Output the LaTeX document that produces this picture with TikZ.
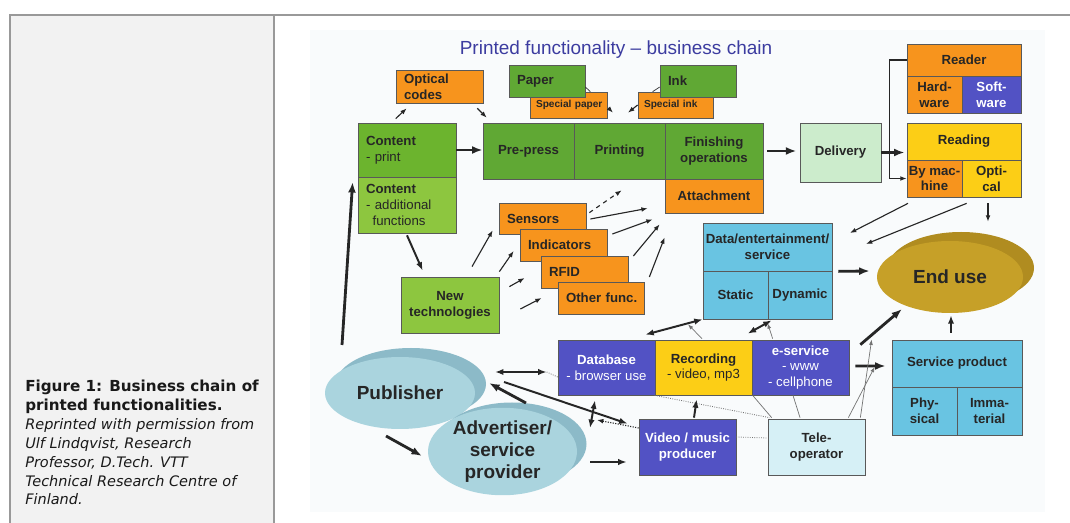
\documentclass[tikz,border=0pt]{standalone}
\usepackage{fontspec}
\setmainfont{Liberation Sans}
\newfontfamily\capfont{DejaVu Sans}
\usetikzlibrary{shapes.geometric,arrows.meta}

\newlength{\pxu}
\setlength{\pxu}{0.025cm}

\definecolor{orng}{RGB}{247,148,29}
\definecolor{grn}{RGB}{96,168,52}
\definecolor{grnc}{RGB}{108,180,46}
\definecolor{lgrn}{RGB}{141,198,63}
\definecolor{dlv}{RGB}{204,236,204}
\definecolor{yel}{RGB}{252,206,22}
\definecolor{purp}{RGB}{82,82,196}
\definecolor{lblu}{RGB}{105,196,226}
\definecolor{tel}{RGB}{214,240,246}
\definecolor{endc}{RGB}{198,160,40}
\definecolor{endd}{RGB}{176,140,32}
\definecolor{pubc}{RGB}{170,212,222}
\definecolor{pubd}{RGB}{140,186,200}
\definecolor{ttl}{RGB}{60,60,160}
\definecolor{bgd}{RGB}{249,251,252}

\tikzset{
  box/.style={draw=black!65, line width=0.5pt, inner sep=0pt, align=center,
    text=black!85, font=\fontsize{9.4}{11.2}\selectfont\bfseries},
  lbox/.style={box, align=left, inner xsep=8\pxu, text width=#1\pxu},
  small/.style={font=\fontsize{7.2}{9}\selectfont\bfseries},
  disc/.style={ellipse, inner sep=0pt, align=center, text=black!85,
    font=\fontsize{13.5}{15.7}\selectfont\bfseries},
  big/.style={->, line width=2pt, black!85},
  md/.style={->, line width=1.4pt, black!85},
  tn/.style={->, line width=0.8pt, black!85},
  tg/.style={->, line width=0.5pt, black!55},
  ln/.style={line width=0.5pt, black!55},
  dots/.style={densely dotted, line width=0.6pt, black!55}
}

\begin{document}
\begin{tikzpicture}[x=\pxu, y=-\pxu, >={Latex[length=2.5pt 2.5]}]
  \useasboundingbox (0,0) rectangle (1070,523);

  % page frame and caption column
  \fill[gray!10] (10,15) rectangle (274,523);
  \draw[gray!80, line width=2pt] (10,523) -- (10,15) -- (1070,15);
  \draw[gray!80, line width=2pt] (274,15) -- (274,523);
  \node[anchor=north west, inner sep=0pt, align=left, text=black!90,
    font=\capfont\fontsize{10.3}{13.4}\selectfont] (cap) at (25,380)
    {{\fontsize{10.8}{13.4}\selectfont\bfseries Figure 1: Business chain of}\\
     {\fontsize{10.8}{13.4}\selectfont\bfseries printed functionalities.}\\
     \textit{Reprinted with permission from}\\
     \textit{Ulf Lindqvist, Research}\\
     \textit{Professor, D.Tech. VTT}\\
     \textit{Technical Research Centre of}\\
     \textit{Finland.}};

  \fill[bgd] (310,30) rectangle (1045,512);
  \node[font=\fontsize{13.5}{16}\selectfont, text=ttl] (title) at (616,50)
    {Printed functionality -- business chain};

  % content and print chain
  \node[lbox=71, fill=orng, minimum height=33\pxu] (optc) at (439.5,86.5) {Optical\\codes};
  \node[lbox=65, inner xsep=6\pxu, small, fill=orng, minimum height=26\pxu] (specp) at (568.5,105) {\mbox{Special paper}};
  \node[lbox=60, fill=grn, minimum height=32\pxu] (paper) at (547,81) {Paper};
  \node[lbox=63, inner xsep=6\pxu, small, fill=orng, minimum height=26\pxu] (specink) at (675.5,105) {\mbox{Special ink}};
  \node[lbox=60, fill=grn, minimum height=32\pxu] (ink) at (698,81) {Ink};

  \node[lbox=82, fill=grnc, minimum height=54\pxu] (cprint) at (407,150) {Content\\{\mdseries - print}};
  \node[lbox=82, fill=lgrn, minimum height=56\pxu] (cadd) at (407,205)
    {Content\\{\mdseries - additional}\\{\mdseries\hspace*{0.5em}functions}};
  \node[box, fill=grn, minimum width=91\pxu, minimum height=56\pxu] (prep) at (528.5,151) {Pre-press};
  \node[box, fill=grn, minimum width=91\pxu, minimum height=56\pxu] (print) at (619.5,151) {Printing};
  \node[box, fill=grn, minimum width=98\pxu, minimum height=56\pxu] (fin) at (714,151) {Finishing\\operations};
  \node[box, fill=orng, minimum width=98\pxu, minimum height=34\pxu] (attach) at (714,196) {Attachment};
  \node[box, fill=dlv, minimum width=81\pxu, minimum height=59\pxu] (deliv) at (840.5,152.5) {Delivery};

  % reader and reading
  \node[box, fill=orng, minimum width=114\pxu, minimum height=32\pxu] (reader) at (964,60) {Reader};
  \node[box, fill=orng, minimum width=55\pxu, minimum height=37\pxu] (hard) at (934.5,94.5) {Hard-\\ware};
  \node[box, fill=purp, text=white, minimum width=59\pxu, minimum height=37\pxu] (soft) at (991.5,94.5) {Soft-\\ware};
  \node[box, fill=yel, minimum width=114\pxu, minimum height=37\pxu] (reading) at (964,141.5) {Reading};
  \node[box, fill=orng, minimum width=55\pxu, minimum height=37\pxu] (bymach) at (934.5,178.5) {By mac-\\hine};
  \node[box, fill=yel, minimum width=59\pxu, minimum height=37\pxu] (optical) at (991.5,178.5) {Opti-\\cal};

  % new technologies
  \node[lbox=71, fill=orng, minimum height=31\pxu] (sensors) at (542.5,218.5) {Sensors};
  \node[lbox=71, fill=orng, minimum height=32\pxu] (indic) at (563.5,245) {Indicators};
  \node[lbox=71, fill=orng, minimum height=32\pxu] (rfid) at (584.5,272) {RFID};
  \node[lbox=70, fill=orng, minimum height=32\pxu] (other) at (601,298) {\mbox{Other func.}};
  \node[box, fill=lgrn, minimum width=98\pxu, minimum height=56\pxu] (newtech) at (450,305) {New\\technologies};

  % services
  \node[box, fill=lblu, minimum width=129\pxu, minimum height=48\pxu] (data) at (767.5,247) {Data/entertainment/\\service};
  \node[box, fill=lblu, minimum width=65\pxu, minimum height=48\pxu] (static) at (735.5,295) {Static};
  \node[box, fill=lblu, minimum width=64\pxu, minimum height=48\pxu] (dynamic) at (800,295) {Dynamic};
  \node[disc, fill=endd, minimum width=146\pxu, minimum height=72\pxu] (endsh) at (961,268) {};
  \node[disc, fill=endc, minimum width=146\pxu, minimum height=72\pxu] (enduse) at (950,277) {End use};
  \node[box, fill=lblu, minimum width=130\pxu, minimum height=47\pxu] (servp) at (957,363.5) {Service product};
  \node[box, fill=lblu, minimum width=65\pxu, minimum height=48\pxu] (phys) at (924.5,411) {Phy-\\sical};
  \node[box, fill=lblu, minimum width=65\pxu, minimum height=48\pxu] (immat) at (989.5,411) {Imma-\\terial};

  \node[box, fill=purp, text=white, minimum width=97\pxu, minimum height=55\pxu] (db) at (606.5,367.5) {Database\\{\mdseries - browser use}};
  \node[box, fill=yel, minimum width=97\pxu, minimum height=55\pxu] (rec) at (703.5,367.5) {Recording\\{\mdseries - video, mp3}};
  \node[box, fill=purp, text=white, minimum width=97\pxu, minimum height=55\pxu] (eserv) at (800.5,367.5) {e-service\\{\mdseries - www}\\{\mdseries - cellphone}};
  \node[box, fill=purp, text=white, minimum width=97\pxu, minimum height=56\pxu] (video) at (687.5,447) {Video / music\\producer};
  \node[box, fill=tel, minimum width=97\pxu, minimum height=56\pxu] (tele) at (816.5,447) {Tele-\\operator};

  % publisher and advertiser
  \node[disc, fill=pubd, minimum width=150\pxu, minimum height=72\pxu] (pubsh) at (411,384) {};
  \node[disc, fill=pubc, minimum width=150\pxu, minimum height=72\pxu] (pub) at (400,393) {Publisher};
  \node[disc, fill=pubd, minimum width=149\pxu, minimum height=83\pxu] (advsh) at (512,444) {};
  \node[disc, fill=pubc, minimum width=149\pxu, minimum height=83\pxu] (adv) at (502.5,451.5) {Advertiser/\\service\\provider};

  % chain arrows
  \draw[big] (cprint.east) -- (cprint.east -| prep.west);
  \draw[big, shorten <=0.1cm, shorten >=0.08cm] (fin.east) -- (fin.east -| deliv.west);
  \draw[big, shorten >=0.05cm] (deliv.east) -- (deliv.east -| reading.west);
  \draw[tn] (reader.west) -- ++(-17,0) |- (bymach.west);
  \draw[tn] ([shift={(38,-4)}]cprint.north west) -- ([shift={(11,5)}]optc.south west);
  \draw[tn] ([shift={(-6,5)}]optc.south east) -- ([shift={(4,-5)}]prep.north west);
  \draw[tn] ([shift={(1,3)}]specp.east) -- ([shift={(-6.5,-10)}]print.north);
  \draw[tn] (specink.west) -- ([shift={(8.5,-10)}]print.north);
  \draw[ln, black!80] ([shift={(0,6)}]paper.east) -- ([shift={(-17,0)}]specp.north east);
  \draw[ln, black!80] ([shift={(0,6)}]ink.west) -- ([shift={(15,0)}]specink.north west);

  % new technologies arrows
  \draw[tn, dashed] ([shift={(3,10)}]sensors.north east) -- ([shift={(-43,-23)}]attach.south west);
  \draw[tn] ([shift={(4,0.5)}]sensors.east) -- ([shift={(-17,-5)}]attach.south west);
  \draw[tn] ([shift={(5,-11)}]indic.east) -- ([shift={(-12,6)}]attach.south west);
  \draw[tn] ([shift={(5,-16)}]rfid.east) -- ([shift={(-5,11)}]attach.south west);
  \draw[tn] ([shift={(5,-21)}]other.east) -- ([shift={(0,24)}]attach.south west);
  \draw[tn] ([shift={(22,-10)}]newtech.north) -- ([shift={(-6,-4)}]sensors.south west);
  \draw[tn] ([shift={(0,-5)}]newtech.north east) -- ([shift={(-6,6)}]indic.west);
  \draw[tn] ([shift={(10,10)}]newtech.north east) -- ([shift={(-16,6)}]rfid.west);
  \draw[tn] ([shift={(21,4)}]newtech.east) -- ([shift={(-16,0)}]other.west);
  \draw[md] ([shift={(0,2)}]cadd.south) -- ([shift={(22,-6)}]newtech.north west);
  \draw[big] ([shift={(-58,-48)}]pub.center) -- ([shift={(-5,-23)}]cadd.west);

  % services arrows
  \draw[md, <->] ([shift={(-10,-5)}]db.north east) -- (static.south west);
  \draw[md, <->] ([shift={(-4,-6)}]eserv.north west) -- ([shift={(4,1)}]dynamic.south west);
  \draw[tg] ([shift={(-1.5,-1)}]rec.north) -- ([shift={(-47.5,5)}]static.south);
  \draw[tg] ([shift={(21,-1)}]eserv.north west) -- ([shift={(0,4)}]dynamic.south west);
  \draw[big] ([shift={(6,0)}]data.south east) -- ([shift={(-7,-6)}]enduse.west);
  \draw[tn] ([shift={(-26.5,6)}]bymach.south) -- ([shift={(-100,-44)}]enduse.center);
  \draw[tn] ([shift={(5,6)}]optical.south west) -- ([shift={(-84,-33)}]enduse.center);
  \draw[tn] ([shift={(-3.5,6)}]optical.south) -- ([shift={(38,-19)}]enduse.north);
  \draw[md] ([shift={(-6,-7)}]servp.north) -- ([shift={(1,2)}]enduse.south);
  \draw[big] ([shift={(6,-1.5)}]eserv.east) -- ([shift={(-6,2.5)}]servp.west);
  \draw[big] ([shift={(11,5)}]eserv.north east) -- ([shift={(-48,32)}]enduse.center);
  \draw[tg] ([shift={(-17,-1)}]tele.north east) -- ([shift={(-17,3.5)}]servp.west);
  \draw[tg] ([shift={(-5,-1)}]tele.north east) -- ([shift={(-20,0)}]servp.north west);
  \draw[ln] ([shift={(1,0)}]eserv.south west) -- ([shift={(4,-1)}]tele.north west);
  \draw[ln] ([shift={(-7.5,0)}]eserv.south) -- ([shift={(-16.5,-1)}]tele.north);
  \draw[dots] (rec.south west) -- ([shift={(2,-1)}]tele.north west);
  \draw[dots] ([shift={(0,-10)}]video.east) -- ([shift={(0,-9)}]tele.west);
  \draw[md] ([shift={(6.5,-1)}]video.north) -- ([shift={(42,4)}]rec.south west);

  % publisher and advertiser arrows
  \draw[md, <->] ([shift={(95,-21)}]pub.center) -- ([shift={(-11,4.5)}]db.west);
  \draw[dots] ([shift={(-11,4.5)}]db.west) -- ([shift={(0,9.5)}]db.west);
  \draw[md, <->] ([shift={(-11.5,5)}]db.south) -- ([shift={(87.5,-23.5)}]adv.center);
  \draw[md] ([shift={(104,-11)}]pub.center) -- ([shift={(-11,5)}]video.north west);
  \draw[tn, densely dotted] ([shift={(0,-19)}]video.west) -- ([shift={(94.5,-31.5)}]adv.center);
  \draw[big] ([shift={(23.5,-48.5)}]adv.center) -- ([shift={(89,-10)}]pub.center);
  \draw[big] ([shift={(-14,43)}]pub.center) -- ([shift={(-80.5,4.5)}]adv.center);
  \draw[md] ([shift={(87.5,10.5)}]adv.center) -- ([shift={(-12,15)}]video.west);
\end{tikzpicture}
\end{document}
